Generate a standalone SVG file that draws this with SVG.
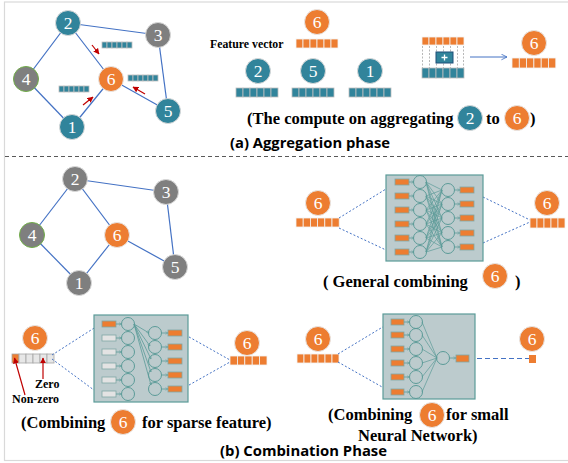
<svg xmlns="http://www.w3.org/2000/svg" width="568" height="463" viewBox="0 0 568 463">
<defs>
<marker id="red" viewBox="0 0 10 10" refX="9" refY="5" markerWidth="5" markerHeight="5" orient="auto"><path d="M0,0 L10,5 L0,10 z" fill="#c00000"/></marker>
<marker id="blue" viewBox="0 0 10 10" refX="9" refY="5" markerWidth="7" markerHeight="7" orient="auto"><path d="M1,1 L9,5 L1,9" fill="none" stroke="#4472c4" stroke-width="1.2"/></marker>
<marker id="tl" viewBox="0 0 10 10" refX="9" refY="5" markerWidth="4" markerHeight="4" orient="auto"><path d="M1,1 L9,5 L1,9" fill="none" stroke="#5b9b98" stroke-width="1.5"/></marker>
</defs>
<style>
.teal{fill:#31849b;stroke:#d9d9d9;stroke-width:1}
.org{fill:#ed7d31;stroke:#e7e6e6;stroke-width:1}
.gry{fill:#7f7f7f;stroke:#d9d9d9;stroke-width:1}
.nl{font-family:"Liberation Serif","Times New Roman",serif;font-size:17.5px;fill:#fff;text-anchor:middle}
.edge{stroke:#4472c4;stroke-width:1.2;fill:none}
.ra{stroke:#c00000;stroke-width:1.2;marker-end:url(#red)}
.ct{fill:#31849b;stroke:#bfbfbf;stroke-width:0.8}
.co{fill:#ed7d31;stroke:#f2f2f2;stroke-width:0.8}
.cg{fill:#e7e7e7;stroke:#a6a6a6;stroke-width:0.8}
.bt{font-family:"Liberation Serif",serif;font-weight:bold;font-size:16.5px;fill:#000}
.st{font-family:"Open Sans",sans-serif;font-weight:700;font-size:14px;fill:#000}
.sm{font-family:"Liberation Serif",serif;font-weight:bold;font-size:12px;fill:#000}
.box{fill:#bccbcd;stroke:#5b9b98;stroke-width:1.2}
.nc{fill:none;stroke:#5b9b98;stroke-width:1}
.nw{stroke:#5b9b98;stroke-width:0.7}
.ir{fill:#ed7d31;stroke:#7fa7a5;stroke-width:0.8}
.ig{fill:#e3e3e3;stroke:#7fa7a5;stroke-width:0.8}
.sa{stroke:#5b9b98;stroke-width:0.8;marker-end:url(#tl)}
.dl{stroke:#4472c4;stroke-width:1;stroke-dasharray:2,2;fill:none}
</style>
<rect x="4.5" y="2" width="580" height="458.5" fill="#fff" stroke="#d9d9d9" stroke-width="1.2"/>
<line x1="5" y1="156.5" x2="568" y2="156.5" stroke="#595959" stroke-width="1.2" stroke-dasharray="4,3"/>

<!-- ===== (a) aggregation graph ===== -->
<g id="edges-a">
<line class="edge" x1="68" y1="23" x2="158" y2="35"/>
<line class="edge" x1="68" y1="23" x2="26" y2="79"/>
<line class="edge" x1="68" y1="23" x2="111" y2="79"/>
<line class="edge" x1="26" y1="79" x2="72" y2="127"/>
<line class="edge" x1="72" y1="127" x2="111" y2="79"/>
<line class="edge" x1="111" y1="79" x2="168" y2="111"/>
<line class="edge" x1="158" y1="35" x2="168" y2="111"/>
<line class="ra" x1="92" y1="45" x2="99" y2="54"/>
<line class="ra" x1="83" y1="105" x2="93" y2="97"/>
<line class="ra" x1="145" y1="94" x2="133" y2="87"/>
</g>
<g id="a-node2"><circle class="teal" cx="68" cy="23" r="12.5"/><text class="nl" x="68" y="29">2</text></g>
<g id="a-node3"><circle class="gry" cx="158" cy="35" r="12.5"/><text class="nl" x="158" y="41">3</text></g>
<g id="a-node4"><circle cx="26" cy="79" r="12.5" fill="#7f7f7f" stroke="#70ad47" stroke-width="1"/><text class="nl" x="26" y="85">4</text></g>
<g id="a-node6"><circle class="org" cx="111" cy="79" r="12.5"/><text class="nl" x="111" y="85">6</text></g>
<g id="a-node5"><circle class="teal" cx="168" cy="111" r="12.5"/><text class="nl" x="168" y="117">5</text></g>
<g id="a-node1"><circle class="teal" cx="72" cy="127" r="12.5"/><text class="nl" x="72" y="133">1</text></g>
<g id="a-bars">
<rect class="ct" x="102" y="42" width="5" height="6"/><rect class="ct" x="107" y="42" width="5" height="6"/><rect class="ct" x="112" y="42" width="5" height="6"/><rect class="ct" x="117" y="42" width="5" height="6"/><rect class="ct" x="122" y="42" width="5" height="6"/><rect class="ct" x="127" y="42" width="5" height="6"/>
<rect class="ct" x="128" y="75" width="5" height="6"/><rect class="ct" x="133" y="75" width="5" height="6"/><rect class="ct" x="138" y="75" width="5" height="6"/><rect class="ct" x="143" y="75" width="5" height="6"/><rect class="ct" x="148" y="75" width="5" height="6"/><rect class="ct" x="153" y="75" width="5" height="6"/>
<rect class="ct" x="59" y="86" width="5" height="6"/><rect class="ct" x="64" y="86" width="5" height="6"/><rect class="ct" x="69" y="86" width="5" height="6"/><rect class="ct" x="74" y="86" width="5" height="6"/><rect class="ct" x="79" y="86" width="5" height="6"/><rect class="ct" x="84" y="86" width="5" height="6"/>
</g>

<!-- feature vectors -->
<g id="fv">
<text x="210" y="48" font-family="Liberation Serif,serif" font-weight="bold" font-size="11.8" fill="#000">Feature vector</text>
<circle class="org" cx="317" cy="22" r="12.5"/><text class="nl" x="317" y="28">6</text>
<rect class="co" x="296" y="39" width="7" height="9"/><rect class="co" x="303" y="39" width="7" height="9"/><rect class="co" x="310" y="39" width="7" height="9"/><rect class="co" x="317" y="39" width="7" height="9"/><rect class="co" x="324" y="39" width="7" height="9"/><rect class="co" x="331" y="39" width="7" height="9"/>
</g>
<g id="fv2"><circle class="teal" cx="258" cy="71" r="12.5"/><text class="nl" x="258" y="77">2</text>
<rect class="ct" x="236" y="88" width="7" height="9"/><rect class="ct" x="243" y="88" width="7" height="9"/><rect class="ct" x="250" y="88" width="7" height="9"/><rect class="ct" x="257" y="88" width="7" height="9"/><rect class="ct" x="264" y="88" width="7" height="9"/><rect class="ct" x="271" y="88" width="7" height="9"/></g>
<g id="fv5"><circle class="teal" cx="313" cy="71" r="12.5"/><text class="nl" x="313" y="77">5</text>
<rect class="ct" x="292" y="88" width="7" height="9"/><rect class="ct" x="299" y="88" width="7" height="9"/><rect class="ct" x="306" y="88" width="7" height="9"/><rect class="ct" x="313" y="88" width="7" height="9"/><rect class="ct" x="320" y="88" width="7" height="9"/><rect class="ct" x="327" y="88" width="7" height="9"/></g>
<g id="fv1"><circle class="teal" cx="370" cy="71" r="12.5"/><text class="nl" x="370" y="77">1</text>
<rect class="ct" x="349" y="88" width="7" height="9"/><rect class="ct" x="356" y="88" width="7" height="9"/><rect class="ct" x="363" y="88" width="7" height="9"/><rect class="ct" x="370" y="88" width="7" height="9"/><rect class="ct" x="377" y="88" width="7" height="9"/><rect class="ct" x="384" y="88" width="7" height="9"/></g>

<!-- aggregation compute -->
<g id="agg">
<g stroke="#a6a6a6" stroke-width="0.8" stroke-dasharray="2,1.5">
<line x1="422.5" y1="46" x2="422.5" y2="68"/><line x1="429.5" y1="46" x2="429.5" y2="68"/><line x1="436.5" y1="46" x2="436.5" y2="68"/><line x1="443.5" y1="46" x2="443.5" y2="68"/><line x1="450.5" y1="46" x2="450.5" y2="68"/><line x1="457.5" y1="46" x2="457.5" y2="68"/><line x1="463.5" y1="46" x2="463.5" y2="68"/>
</g>
<rect class="co" x="422" y="37" width="7" height="8"/><rect class="co" x="429" y="37" width="7" height="8"/><rect class="co" x="436" y="37" width="7" height="8"/><rect class="co" x="443" y="37" width="7" height="8"/><rect class="co" x="450" y="37" width="7" height="8"/><rect class="co" x="457" y="37" width="7" height="8"/>
<rect class="ct" x="422" y="68" width="7" height="10"/><rect class="ct" x="429" y="68" width="7" height="10"/><rect class="ct" x="436" y="68" width="7" height="10"/><rect class="ct" x="443" y="68" width="7" height="10"/><rect class="ct" x="450" y="68" width="7" height="10"/><rect class="ct" x="457" y="68" width="7" height="10"/>
<rect x="436" y="52" width="17" height="11" fill="#31849b" stroke="#1f4e79" stroke-width="1"/>
<path d="M444.5,54.5 v6 M441.5,57.5 h6" stroke="#fff" stroke-width="1.3"/>
</g>
<g id="agg-arrow"><line x1="470" y1="57" x2="507" y2="57" stroke="#4472c4" stroke-width="1" marker-end="url(#blue)"/></g>
<g id="agg-out"><circle class="org" cx="534" cy="43" r="12.5"/><text class="nl" x="534" y="49">6</text>
<rect class="co" x="512" y="58" width="7.3" height="10"/><rect class="co" x="519.3" y="58" width="7.3" height="10"/><rect class="co" x="526.6" y="58" width="7.3" height="10"/><rect class="co" x="533.9" y="58" width="7.3" height="10"/><rect class="co" x="541.2" y="58" width="7.3" height="10"/><rect class="co" x="548.5" y="58" width="7.3" height="10"/></g>
<g id="agg-caption">
<text class="bt" x="247" y="124">(The compute on aggregating</text>
<circle class="teal" cx="470" cy="118" r="12.5"/><text class="nl" x="470" y="124">2</text>
<text class="bt" x="486" y="124">to</text>
<circle class="org" cx="517" cy="118" r="12.5"/><text class="nl" x="517" y="124">6</text>
<text class="bt" x="530" y="124">)</text>
</g>
<text class="st" x="230" y="148" textLength="160" lengthAdjust="spacingAndGlyphs">(a) Aggregation phase</text>

<!-- ===== (b) combination graph ===== -->
<g id="edges-b">
<line class="edge" x1="75" y1="179" x2="166" y2="192"/>
<line class="edge" x1="75" y1="179" x2="32" y2="235"/>
<line class="edge" x1="75" y1="179" x2="117" y2="235"/>
<line class="edge" x1="32" y1="235" x2="79" y2="283"/>
<line class="edge" x1="79" y1="283" x2="117" y2="235"/>
<line class="edge" x1="117" y1="235" x2="175" y2="267"/>
<line class="edge" x1="166" y1="192" x2="175" y2="267"/>
</g>
<g id="b-node2"><circle class="gry" cx="75" cy="179" r="12.5"/><text class="nl" x="75" y="185">2</text></g>
<g id="b-node3"><circle class="gry" cx="166" cy="192" r="12.5"/><text class="nl" x="166" y="198">3</text></g>
<g id="b-node4"><circle cx="32" cy="235" r="12.5" fill="#7f7f7f" stroke="#70ad47" stroke-width="1"/><text class="nl" x="32" y="241">4</text></g>
<g id="b-node6"><circle class="org" cx="117" cy="235" r="12.5"/><text class="nl" x="117" y="241">6</text></g>
<g id="b-node5"><circle class="gry" cx="175" cy="267" r="12.5"/><text class="nl" x="175" y="273">5</text></g>
<g id="b-node1"><circle class="gry" cx="79" cy="283" r="12.5"/><text class="nl" x="79" y="289">1</text></g>

<!-- general combining -->
<g id="gc-in"><circle class="org" cx="318" cy="203" r="12.5"/><text class="nl" x="318" y="209">6</text>
<rect class="co" x="296" y="218" width="7.2" height="9"/><rect class="co" x="303.2" y="218" width="7.2" height="9"/><rect class="co" x="310.4" y="218" width="7.2" height="9"/><rect class="co" x="317.6" y="218" width="7.2" height="9"/><rect class="co" x="324.8" y="218" width="7.2" height="9"/><rect class="co" x="332" y="218" width="7.2" height="9"/></g>
<g id="gc-links">
<line class="dl" x1="339" y1="218" x2="386" y2="189"/><line class="dl" x1="339" y1="228" x2="386" y2="250"/>
<line class="dl" x1="483" y1="197" x2="530" y2="220"/><line class="dl" x1="483" y1="243" x2="530" y2="222"/>
</g>
<g id="gc-nn">
<rect class="box" x="386" y="175" width="97" height="86"/>
<g class="nw">
<line x1="426" y1="182" x2="442" y2="190"/><line x1="426" y1="182" x2="442" y2="204"/><line x1="426" y1="182" x2="442" y2="218"/><line x1="426" y1="182" x2="442" y2="233"/><line x1="426" y1="182" x2="442" y2="247"/>
<line x1="426" y1="196" x2="442" y2="190"/><line x1="426" y1="196" x2="442" y2="204"/><line x1="426" y1="196" x2="442" y2="218"/><line x1="426" y1="196" x2="442" y2="233"/><line x1="426" y1="196" x2="442" y2="247"/>
<line x1="426" y1="210" x2="442" y2="190"/><line x1="426" y1="210" x2="442" y2="204"/><line x1="426" y1="210" x2="442" y2="218"/><line x1="426" y1="210" x2="442" y2="233"/><line x1="426" y1="210" x2="442" y2="247"/>
<line x1="426" y1="224" x2="442" y2="190"/><line x1="426" y1="224" x2="442" y2="204"/><line x1="426" y1="224" x2="442" y2="218"/><line x1="426" y1="224" x2="442" y2="233"/><line x1="426" y1="224" x2="442" y2="247"/>
<line x1="426" y1="238" x2="442" y2="190"/><line x1="426" y1="238" x2="442" y2="204"/><line x1="426" y1="238" x2="442" y2="218"/><line x1="426" y1="238" x2="442" y2="233"/><line x1="426" y1="238" x2="442" y2="247"/>
<line x1="426" y1="252" x2="442" y2="190"/><line x1="426" y1="252" x2="442" y2="204"/><line x1="426" y1="252" x2="442" y2="218"/><line x1="426" y1="252" x2="442" y2="233"/><line x1="426" y1="252" x2="442" y2="247"/>
</g>
<rect class="ir" x="395" y="179" width="14" height="6"/><rect class="ir" x="395" y="193" width="14" height="6"/><rect class="ir" x="395" y="207" width="14" height="6"/><rect class="ir" x="395" y="221" width="14" height="6"/><rect class="ir" x="395" y="235" width="14" height="6"/><rect class="ir" x="395" y="249" width="14" height="6"/>
<line class="sa" x1="409" y1="182" x2="414" y2="182"/><line class="sa" x1="409" y1="196" x2="414" y2="196"/><line class="sa" x1="409" y1="210" x2="414" y2="210"/><line class="sa" x1="409" y1="224" x2="414" y2="224"/><line class="sa" x1="409" y1="238" x2="414" y2="238"/><line class="sa" x1="409" y1="252" x2="414" y2="252"/>
<circle class="nc" cx="420" cy="182" r="6.5"/><circle class="nc" cx="420" cy="196" r="6.5"/><circle class="nc" cx="420" cy="210" r="6.5"/><circle class="nc" cx="420" cy="224" r="6.5"/><circle class="nc" cx="420" cy="238" r="6.5"/><circle class="nc" cx="420" cy="252" r="6.5"/>
<circle class="nc" cx="448" cy="190" r="6.5"/><circle class="nc" cx="448" cy="204" r="6.5"/><circle class="nc" cx="448" cy="218" r="6.5"/><circle class="nc" cx="448" cy="233" r="6.5"/><circle class="nc" cx="448" cy="247" r="6.5"/>
<line class="sa" x1="454.5" y1="190" x2="460" y2="190"/><line class="sa" x1="454.5" y1="204" x2="460" y2="204"/><line class="sa" x1="454.5" y1="218" x2="460" y2="218"/><line class="sa" x1="454.5" y1="233" x2="460" y2="233"/><line class="sa" x1="454.5" y1="247" x2="460" y2="247"/>
<rect class="ir" x="460" y="187" width="14" height="6"/><rect class="ir" x="460" y="201" width="14" height="6"/><rect class="ir" x="460" y="215" width="14" height="6"/><rect class="ir" x="460" y="230" width="14" height="6"/><rect class="ir" x="460" y="244" width="14" height="6"/>
</g>
<g id="gc-out"><circle class="org" cx="547" cy="203" r="12.5"/><text class="nl" x="547" y="209">6</text>
<rect class="co" x="530" y="218" width="7" height="10"/><rect class="co" x="537" y="218" width="7" height="10"/><rect class="co" x="544" y="218" width="7" height="10"/><rect class="co" x="551" y="218" width="7" height="10"/><rect class="co" x="558" y="218" width="7" height="10"/></g>
<g id="gc-caption">
<text class="bt" x="323" y="287">( General combining</text>
<circle class="org" cx="495" cy="276" r="12.5"/><text class="nl" x="495" y="282">6</text>
<text class="bt" x="515" y="287">)</text>
</g>

<!-- sparse combining -->
<g id="sp-in"><circle class="org" cx="35" cy="338" r="12.5"/><text class="nl" x="35" y="344">6</text>
<rect x="12" y="354" width="7" height="9" fill="#ed7d31" stroke="#a6a6a6" stroke-width="0.8"/><rect class="cg" x="19" y="354" width="7" height="9"/><rect class="cg" x="26" y="354" width="7" height="9"/><rect class="cg" x="33" y="354" width="7" height="9"/><rect class="cg" x="40" y="354" width="7" height="9"/><rect class="cg" x="47" y="354" width="7" height="9"/>
<line class="ra" x1="25" y1="395" x2="14.5" y2="358"/>
<line class="ra" x1="43" y1="379" x2="43" y2="358"/>
<text class="sm" x="35" y="388">Zero</text>
<text class="sm" x="12" y="403">Non-zero</text>
</g>
<g id="sp-links">
<line class="dl" x1="52" y1="355" x2="102" y2="323"/><line class="dl" x1="52" y1="359" x2="102" y2="396"/>
<line class="dl" x1="182" y1="333" x2="230" y2="360"/><line class="dl" x1="182" y1="389" x2="230" y2="362"/>
</g>
<g id="sp-nn">
<rect class="box" x="94" y="315" width="94" height="87"/>
<line class="sa" x1="134" y1="324" x2="149" y2="333"/><line class="sa" x1="134" y1="324" x2="150" y2="346"/><line class="sa" x1="134" y1="324" x2="151" y2="359"/><line class="sa" x1="134" y1="324" x2="151" y2="372"/><line class="sa" x1="134" y1="324" x2="151" y2="385"/>
<rect class="ir" x="102" y="321" width="14" height="6"/><rect class="ig" x="102" y="335" width="14" height="6"/><rect class="ig" x="102" y="349" width="14" height="6"/><rect class="ig" x="102" y="363" width="14" height="6"/><rect class="ig" x="102" y="377" width="14" height="6"/><rect class="ig" x="102" y="391" width="14" height="6"/>
<line class="sa" x1="116" y1="324" x2="121.5" y2="324"/><line class="sa" x1="116" y1="338" x2="121.5" y2="338"/><line class="sa" x1="116" y1="352" x2="121.5" y2="352"/><line class="sa" x1="116" y1="366" x2="121.5" y2="366"/><line class="sa" x1="116" y1="380" x2="121.5" y2="380"/><line class="sa" x1="116" y1="394" x2="121.5" y2="394"/>
<circle class="nc" cx="128" cy="324" r="6.5"/><circle class="nc" cx="128" cy="338" r="6.5"/><circle class="nc" cx="128" cy="352" r="6.5"/><circle class="nc" cx="128" cy="366" r="6.5"/><circle class="nc" cx="128" cy="380" r="6.5"/><circle class="nc" cx="128" cy="394" r="6.5"/>
<circle class="nc" cx="155" cy="333" r="6.5"/><circle class="nc" cx="155" cy="347" r="6.5"/><circle class="nc" cx="155" cy="361" r="6.5"/><circle class="nc" cx="155" cy="375" r="6.5"/><circle class="nc" cx="155" cy="389" r="6.5"/>
<line class="sa" x1="161.5" y1="333" x2="168" y2="333"/><line class="sa" x1="161.5" y1="347" x2="168" y2="347"/><line class="sa" x1="161.5" y1="361" x2="168" y2="361"/><line class="sa" x1="161.5" y1="375" x2="168" y2="375"/><line class="sa" x1="161.5" y1="389" x2="168" y2="389"/>
<rect class="ir" x="168" y="330" width="14" height="6"/><rect class="ir" x="168" y="344" width="14" height="6"/><rect class="ir" x="168" y="358" width="14" height="6"/><rect class="ir" x="168" y="372" width="14" height="6"/><rect class="ir" x="168" y="386" width="14" height="6"/>
</g>
<g id="sp-out"><circle class="org" cx="247" cy="343" r="12.5"/><text class="nl" x="247" y="349">6</text>
<rect class="co" x="230" y="356" width="7.4" height="9"/><rect class="co" x="237.4" y="356" width="7.4" height="9"/><rect class="co" x="244.8" y="356" width="7.4" height="9"/><rect class="co" x="252.2" y="356" width="7.4" height="9"/><rect class="co" x="259.6" y="356" width="7.4" height="9"/></g>
<g id="sp-caption">
<text class="bt" x="21" y="428">(Combining</text>
<circle class="org" cx="123" cy="422" r="12.5"/><text class="nl" x="123" y="428">6</text>
<text class="bt" x="142" y="428">for sparse feature)</text>
</g>

<!-- small NN combining -->
<g id="sn-in"><circle class="org" cx="318" cy="339" r="12.5"/><text class="nl" x="318" y="345">6</text>
<rect class="co" x="297" y="354" width="7" height="9"/><rect class="co" x="304" y="354" width="7" height="9"/><rect class="co" x="311" y="354" width="7" height="9"/><rect class="co" x="318" y="354" width="7" height="9"/><rect class="co" x="325" y="354" width="7" height="9"/><rect class="co" x="332" y="354" width="7" height="9"/></g>
<g id="sn-links">
<line class="dl" x1="338" y1="354" x2="391" y2="322"/><line class="dl" x1="338" y1="362" x2="391" y2="392"/>
<line x1="469" y1="358.5" x2="529" y2="358.5" stroke="#4472c4" stroke-width="1" stroke-dasharray="5,3"/>
</g>
<g id="sn-nn">
<rect class="box" x="383" y="314" width="92" height="85"/>
<g class="nw">
<line x1="422" y1="322" x2="437" y2="358"/><line x1="422" y1="335" x2="437" y2="358"/><line x1="422" y1="349" x2="437" y2="358"/><line x1="422" y1="363" x2="437" y2="358"/><line x1="422" y1="377" x2="437" y2="358"/><line x1="422" y1="392" x2="437" y2="358"/>
</g>
<rect class="ir" x="391" y="319" width="13" height="6"/><rect class="ir" x="391" y="332" width="13" height="6"/><rect class="ir" x="391" y="346" width="13" height="6"/><rect class="ir" x="391" y="360" width="13" height="6"/><rect class="ir" x="391" y="374" width="13" height="6"/><rect class="ir" x="391" y="389" width="13" height="6"/>
<line class="sa" x1="404" y1="322" x2="409.5" y2="322"/><line class="sa" x1="404" y1="335" x2="409.5" y2="335"/><line class="sa" x1="404" y1="349" x2="409.5" y2="349"/><line class="sa" x1="404" y1="363" x2="409.5" y2="363"/><line class="sa" x1="404" y1="377" x2="409.5" y2="377"/><line class="sa" x1="404" y1="392" x2="409.5" y2="392"/>
<circle class="nc" cx="416" cy="322" r="6.5"/><circle class="nc" cx="416" cy="335" r="6.5"/><circle class="nc" cx="416" cy="349" r="6.5"/><circle class="nc" cx="416" cy="363" r="6.5"/><circle class="nc" cx="416" cy="377" r="6.5"/><circle class="nc" cx="416" cy="392" r="6.5"/>
<circle class="nc" cx="443" cy="358" r="6.5"/>
<line class="sa" x1="449.5" y1="358" x2="456" y2="358"/>
<rect class="ir" x="456" y="355" width="13" height="7"/>
</g>
<g id="sn-out"><circle class="org" cx="532" cy="339" r="12.5"/><text class="nl" x="532" y="345">6</text>
<rect x="529" y="355" width="7" height="8" fill="#ed7d31"/></g>
<g id="sn-caption">
<text class="bt" x="328" y="420">(Combining</text>
<circle class="org" cx="432" cy="415" r="12.5"/><text class="nl" x="432" y="421">6</text>
<text class="bt" x="446" y="420">for small</text>
<text class="bt" x="358" y="441">Neural Network)</text>
</g>
<text class="st" x="220" y="456" textLength="167" lengthAdjust="spacingAndGlyphs">(b) Combination Phase</text>
</svg>
